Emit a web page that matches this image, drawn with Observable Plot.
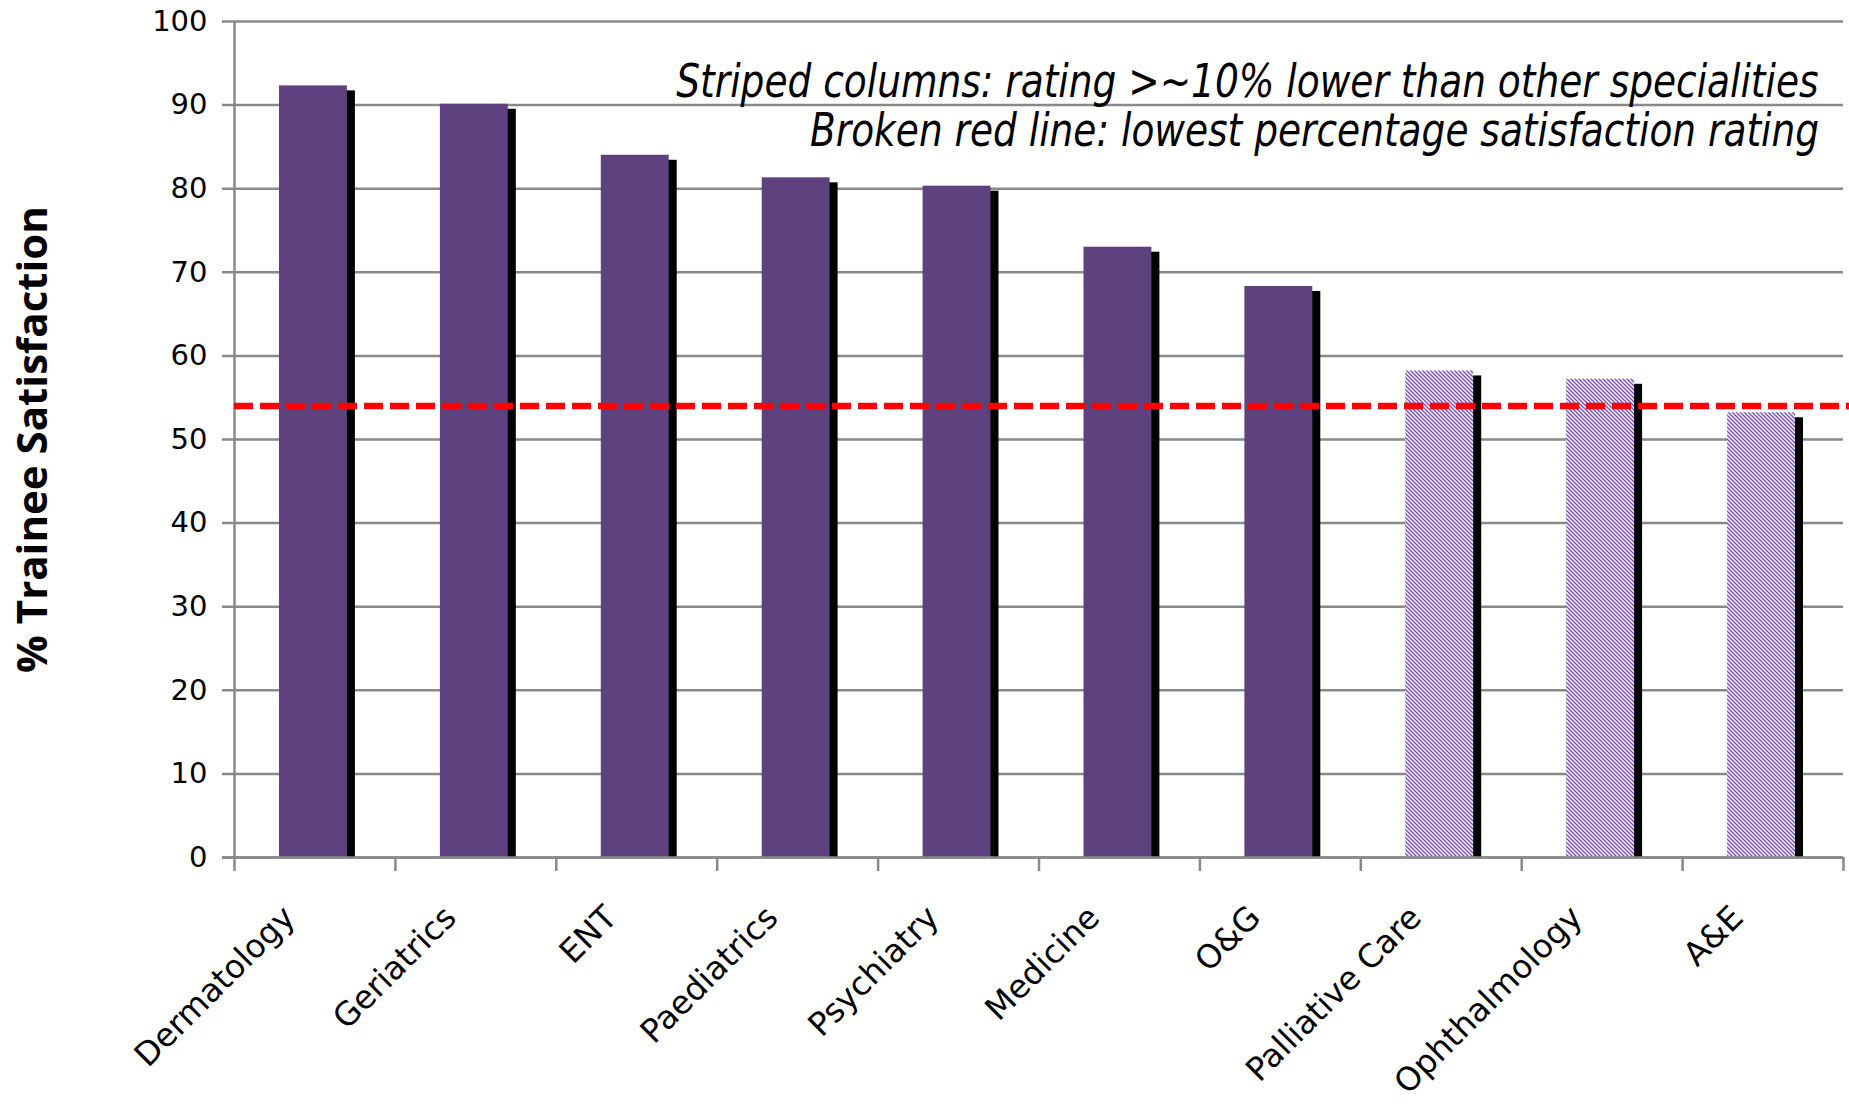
<!DOCTYPE html>
<html>
<head>
<meta charset="utf-8">
<script src="https://cdn.jsdelivr.net/npm/d3@7"></script>
<script src="https://cdn.jsdelivr.net/npm/@observablehq/plot@0.6"></script>
<style>
  html, body { margin: 0; padding: 0; background: #fff; }
  #wrap { position: relative; width: 1849px; height: 1107px; overflow: hidden; background: #fff; }
  #wrap svg { position: absolute; left: 0; top: 0; }
  .note { position: absolute; right: 30px; white-space: nowrap; font-family: "DejaVu Sans", sans-serif;
          font-style: italic; font-size: 46px; line-height: 46px; color: #000;
          transform: scaleX(0.815); transform-origin: right top; }
</style>
</head>
<body>
<div id="wrap"></div>
<script>
// ---- data ----
const categories = ["Dermatology", "Geriatrics", "ENT", "Paediatrics", "Psychiatry", "Medicine", "O&G", "Palliative Care", "Ophthalmology", "A&E"];
const values = [92.3, 90.1, 84.0, 81.3, 80.3, 73.0, 68.3, 58.2, 57.2, 53.2];
const stripedCategories = ["Palliative Care", "Ophthalmology", "A&E"];
const lowestLine = [54];
const yTicks = [0, 10, 20, 30, 40, 50, 60, 70, 80, 90, 100];
const yLabel = "% Trainee Satisfaction";
const notes = ["Striped columns: rating >~10% lower than other specialities",
               "Broken red line: lowest percentage satisfaction rating"];

// ---- layout ----
const W = 1849, H = 1107, mL = 234, mR = 6, mT = 21, mB = 250;
const bw = (W - mL - mR) / categories.length;
const rows = categories.map((c, i) => ({category: c, value: values[i], striped: stripedCategories.includes(c)}));
const gridColor = "#898989";
const purple = "#5e4280";

const defs = () => {
  const d = d3.create("svg:defs");
  const p = d.append("pattern").attr("id", "hatch").attr("patternUnits", "userSpaceOnUse")
    .attr("width", 4).attr("height", 4);
  p.append("rect").attr("width", 4).attr("height", 4).attr("fill", "#ffffff");
  p.append("path").attr("d", "M-1,-1 L5,5 M-1,3 L1,5 M3,-1 L5,1")
    .attr("stroke", "#8150c2").attr("stroke-width", 1.5);
  return d.node();
};

const chart = Plot.plot({
  width: W, height: H,
  marginLeft: mL, marginRight: mR, marginTop: mT, marginBottom: mB,
  style: {background: "#ffffff", color: "#000000", fontFamily: "DejaVu Sans, sans-serif", overflow: "visible"},
  x: {type: "band", domain: categories, padding: 0, round: false, axis: null},
  y: {domain: [0, 100]},
  marks: [
    defs,
    Plot.ruleY(yTicks, {stroke: gridColor, strokeWidth: 2.5, insetLeft: -12}),
    Plot.barY(rows, {x: "category", y: "value", fill: "#000000", insetLeft: 53, insetRight: 40, insetTop: 5}),
    Plot.barY(rows.filter(d => !d.striped), {x: "category", y: "value", fill: purple, insetLeft: 45, insetRight: 48}),
    Plot.barY(rows.filter(d => d.striped), {x: "category", y: "value", fill: "url(#hatch)", insetLeft: 45, insetRight: 48}),
    Plot.ruleY([0], {stroke: gridColor, strokeWidth: 2.5, insetLeft: -12}),
    Plot.ruleX([categories[0]], {dx: -bw / 2, y1: 100, y2: 0, insetBottom: -14, stroke: gridColor, strokeWidth: 2.5}),
    Plot.ruleX(categories.slice(1), {dx: -bw / 2, y1: 0, y2: 0, insetBottom: -14, stroke: gridColor, strokeWidth: 2.5}),
    Plot.ruleX(categories.slice(-1), {dx: bw / 2, y1: 0, y2: 0, insetBottom: -14, stroke: gridColor, strokeWidth: 2.5}),
    Plot.ruleY(lowestLine, {stroke: "#ff0000", strokeWidth: 6.5, strokeDasharray: "19,7", insetRight: -6}),
    Plot.axisY(yTicks, {tickSize: 0, tickPadding: 27, fontSize: 29, label: null}),
    Plot.text(categories, {x: d => d, frameAnchor: "bottom", rotate: -45, textAnchor: "end", lineAnchor: "bottom",
      dx: -18, dy: 62, fontSize: 32.5}),
    Plot.text([yLabel], {frameAnchor: "left", rotate: -90, dx: -201, textAnchor: "middle", lineAnchor: "middle",
      fontSize: 42, fontWeight: "bold", fontFamily: "Open Sans, sans-serif"})
  ]
});

const wrap = document.getElementById("wrap");
wrap.appendChild(chart);
const tops = [58, 107];
notes.forEach((t, i) => {
  const div = document.createElement("div");
  div.className = "note";
  div.style.top = tops[i] + "px";
  div.textContent = t;
  wrap.appendChild(div);
});
</script>
</body>
</html>
